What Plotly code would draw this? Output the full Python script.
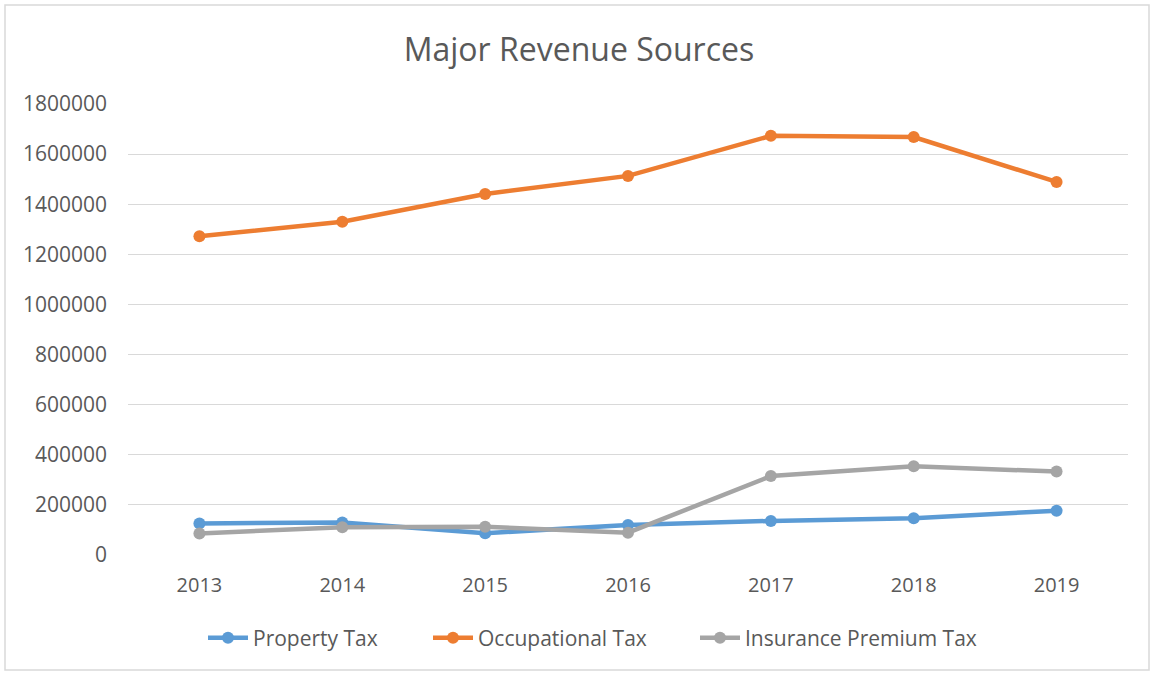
import plotly.graph_objects as go

years = ["2013", "2014", "2015", "2016", "2017", "2018", "2019"]
property_tax = [126000, 130000, 87000, 120000, 136000, 147000, 177000]
occupational_tax = [1272000, 1330000, 1441000, 1513000, 1673000, 1668000, 1489000]
insurance_premium_tax = [86000, 111000, 113000, 89000, 315000, 354000, 333000]

series = [
    ("Property Tax", property_tax, "#5B9BD5", "legend"),
    ("Occupational Tax", occupational_tax, "#ED7D31", "legend2"),
    ("Insurance Premium Tax", insurance_premium_tax, "#A5A5A5", "legend3"),
]

FONT = "'Open Sans', sans-serif"

fig = go.Figure()
for name, vals, color, lg in series:
    fig.add_trace(go.Scatter(
        x=years, y=vals, name=name, mode="lines+markers",
        line=dict(color=color, width=4.5),
        marker=dict(color=color, size=12),
        legend=lg,
    ))

# legend text starts (px) in the reference: 253, 478, 745
legend_common = dict(orientation="h", xanchor="left", y=-83 / 451, yanchor="middle",
                     font=dict(family=FONT, size=21, color="#595959"),
                     itemwidth=40, bgcolor="rgba(0,0,0,0)")

fig.update_layout(
    width=1151, height=675,
    paper_bgcolor="white", plot_bgcolor="white",
    margin=dict(l=128, r=23, t=104, b=120),
    title=dict(text="Major Revenue Sources", x=0.503, xanchor="center",
               y=1 - 50 / 675, yanchor="middle",
               font=dict(family=FONT, size=32, color="#595959")),
    font=dict(family=FONT, size=20, color="#595959"),
    showlegend=True,
    legend=dict(x=(253 - 50 - 128) / 1000, **legend_common),
    legend2=dict(x=(478 - 50 - 128) / 1000, **legend_common),
    legend3=dict(x=(745 - 50 - 128) / 1000, **legend_common),
    xaxis=dict(type="category", range=[-0.5, 6.5], showgrid=False, showline=False,
               zeroline=False, ticks="", tickfont=dict(size=20, color="#595959"),
               ticklabelstandoff=16),
    yaxis=dict(range=[0, 1800000], dtick=200000, tickformat="d",
               showgrid=True, gridcolor="#D9D9D9", gridwidth=1.3,
               zeroline=False, showline=False, ticks="",
               tickfont=dict(size=21, color="#595959"), ticklabelstandoff=20),
    shapes=[dict(type="rect", xref="paper", yref="paper",
                 x0=-123 / 1000, x1=1.0 + 21 / 1000, y0=-115 / 451, y1=1 + 99 / 451,
                 line=dict(color="#D9D9D9", width=1.5), fillcolor="rgba(0,0,0,0)",
                 layer="below")],
)

fig.write_html("out.html", config={"displayModeBar": False},
               post_script="document.body.style.margin='0';")
